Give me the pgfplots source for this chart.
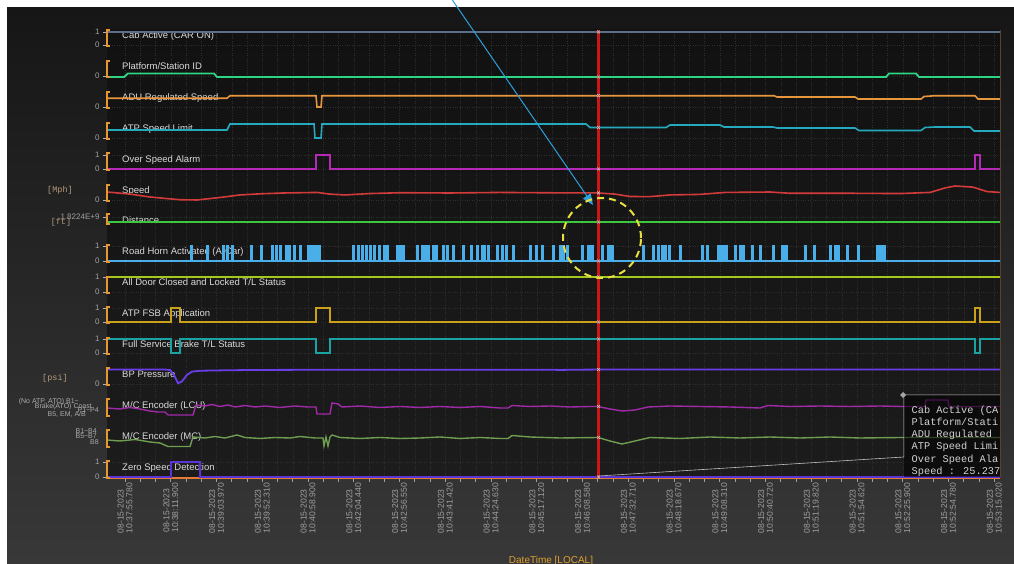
\documentclass[border=0pt]{standalone}
\usepackage{pgfplots}
\pgfplotsset{compat=1.18}
\usepackage{fontspec}
\setmainfont{Liberation Sans}
\newfontfamily\monofont{Liberation Mono}
\usetikzlibrary{arrows.meta}

\definecolor{bgtop}{HTML}{161616}
\definecolor{bgbot}{HTML}{383838}
\definecolor{plottop}{HTML}{111111}
\definecolor{plotbot}{HTML}{1C1C1C}
\definecolor{axorange}{HTML}{E37B35}
\definecolor{brk}{HTML}{E8962E}
\definecolor{unitc}{HTML}{B49B7A}
\definecolor{tickc}{HTML}{A0A0A0}
\definecolor{titlec}{HTML}{DADADA}
\definecolor{gridc}{HTML}{2E2E2E}
\definecolor{edgec}{HTML}{5A4030}
\definecolor{cabc}{HTML}{5D6E8A}
\definecolor{platc}{HTML}{2ED483}
\definecolor{aduc}{HTML}{E8963C}
\definecolor{atpc}{HTML}{25A9BF}
\definecolor{ospc}{HTML}{B52AB5}
\definecolor{spdc}{HTML}{D33A3A}
\definecolor{distc}{HTML}{3CC83C}
\definecolor{hornc}{HTML}{4AAEE8}
\definecolor{doorc}{HTML}{A6C81E}
\definecolor{fsbc}{HTML}{C9A21A}
\definecolor{fsbtc}{HTML}{1AA3A3}
\definecolor{bpc}{HTML}{6A3EE6}
\definecolor{lcuc}{HTML}{A02AA8}
\definecolor{mcc}{HTML}{6E9E50}
\definecolor{zsc}{HTML}{5A34D6}
\definecolor{cursorc}{HTML}{C81818}
\definecolor{arrowc}{HTML}{2EA0DC}
\definecolor{circc}{HTML}{E8E040}
\definecolor{titleor}{HTML}{E0A030}

\pgfplotsset{track/.style 2 args={y filter/.expression={#1+#2*y}}}

\begin{document}
\begin{tikzpicture}
\useasboundingbox (0pt,0pt) rectangle (1014pt,564pt);
\fill[white] (0pt,0pt) rectangle (1014pt,564pt);
\shade[top color=bgtop, bottom color=bgbot] (7pt,0pt) rectangle (1014pt,556pt);

\begin{axis}[
  at={(107pt,86pt)}, anchor=south west,
  scale only axis, width=893pt, height=448pt,
  xmin=107, xmax=1000, ymin=86, ymax=534,
  enlargelimits=false,
  axis background/.style={shade, top color=plottop, bottom color=plotbot},
  axis x line*=bottom, axis y line*=left,
  x axis line style={color=axorange, line width=2pt},
  y axis line style={draw=none},
  tick align=outside,
  xtick={125,170.75,216.5,262.25,308,353.75,399.5,445.25,491,536.75,582.5,628.25,674,719.75,765.5,811.25,857,902.75,948.5,994.25},
  minor x tick num=2,
  major tick length=4pt, minor tick length=4pt,
  xtick style={color=gray!75, line width=0.8pt},
  every minor tick/.append style={color=gray!75, line width=0.8pt},
  xticklabels={
   {08-15-2023\\10:37:55.780},{08-15-2023\\10:38:11.900},{08-15-2023\\10:39:03.970},{08-15-2023\\10:39:52.310},
   {08-15-2023\\10:40:58.900},{08-15-2023\\10:42:04.440},{08-15-2023\\10:42:56.550},{08-15-2023\\10:43:41.420},
   {08-15-2023\\10:44:24.630},{08-15-2023\\10:45:17.120},{08-15-2023\\10:46:08.580},{08-15-2023\\10:47:32.710},
   {08-15-2023\\10:48:18.670},{08-15-2023\\10:49:08.310},{08-15-2023\\10:50:40.720},{08-15-2023\\10:51:19.820},
   {08-15-2023\\10:51:54.620},{08-15-2023\\10:52:25.900},{08-15-2023\\10:52:54.780},{08-15-2023\\10:53:15.020}},
  xticklabel style={rotate=90, anchor=east, align=left, font=\fontsize{8.6}{8.8}\selectfont, text=gray!75, inner sep=1pt},
  ytick={87,102,180,211,225,242,256,272,287,303,318,347,364,395,409,426,457,488,519,532},
  yticklabels={0,1,0,0,1,0,1,0,1,0,1,1.8224E+9,0,0,1,0,0,0,0,1},
  ytick style={color=gray!60, line width=0.6pt},
  yticklabel style={font=\fontsize{8}{8.5}\selectfont, text=tickc},
  xmajorgrids, xminorgrids, ymajorgrids,
  major grid style={dotted, color=gridc},
  minor grid style={dotted, color=gridc},
  clip=false,
]
% track titles
\begin{scope}[every node/.style={anchor=base west, font=\fontsize{9.5}{11}\selectfont, text=titlec, inner sep=0pt}]
\node at (axis cs:122,525.7) {Cab Active (CAR ON)};
\node at (axis cs:122,494) {Platform/Station ID};
\node at (axis cs:122,463.4) {ADU Regulated Speed};
\node at (axis cs:122,432.4) {ATP Speed Limit};
\node at (axis cs:122,401.4) {Over Speed Alarm};
\node at (axis cs:122,370.7) {Speed};
\node at (axis cs:122,340) {Distance};
\node at (axis cs:122,309.7) {Road Horn Activated (A-Car)};
\node at (axis cs:122,278) {All Door Closed and Locked T/L Status};
\node at (axis cs:122,247.4) {ATP FSB Application};
\node at (axis cs:122,216.7) {Full Service Brake T/L Status};
\node at (axis cs:122,186.4) {BP Pressure};
\node at (axis cs:122,155.7) {M/C Encoder (LCU)};
\node at (axis cs:122,124) {M/C Encoder (MC)};
\node at (axis cs:122,93.4) {Zero Speed Detection};
\end{scope}

% 1 Cab Active
\addplot[cabc, line width=1.4pt, track={519}{13}] coordinates {(107,1)(1000,1)};
% 2 Platform/Station ID
\addplot[platc, line width=1.8pt, track={487}{3.5}] coordinates {(107,0)(124,0)(128,1)(214,1)(217,0)(886,0)(889,1)(916,1)(919,0)(1000,0)};
% 3 ADU Regulated Speed (mph)
\addplot[aduc, line width=1.6pt, track={457}{0.25}] coordinates {(107,35)(227,35)(230,45)(316,45)(317,0)(321,0)(322,45)(774,45)(777,40)(855,40)(858,32)(921,32)(924,42)(935,45)(975,45)(978,32)(1000,32)};
% 4 ATP Speed Limit (mph)
\addplot[atpc, line width=1.6pt, track={426}{0.25}] coordinates {(107,32)(227,32)(230,56)(314,56)(315,0)(321,0)(322,56)(586,56)(590,42)(666,42)(670,52)(720,52)(724,44)(773,44)(777,40)(855,40)(859,30)(921,30)(925,42)(935,44)(970,44)(974,28)(1000,28)};
% 5 Over Speed Alarm
\addplot[ospc, line width=1.8pt, const plot, track={395}{14}] coordinates {(107,0)(316,1)(330,0)(975,1)(980,0)(1000,0)};
% 6 Speed (mph)
\addplot[spdc, line width=1.6pt, track={364}{0.28}] coordinates {(107,28.6)(130,21)(150,10.7)(167,5)(180,1)(197,0)(220,9)(240,18)(260,22)(283,25)(317,27)(330,21)(345,18)(370,23)(400,26)(450,25)(500,27)(550,25.7)(598,25.2)(615,21)(630,12.5)(650,12)(670,18)(700,20)(725,27)(770,28.5)(790,24)(850,24)(900,23)(930,27)(945,43)(955,50)(973,46)(987,30)(1000,27)};
% 7 Distance (1e9 ft)
\addplot[distc, line width=1.6pt, track={342}{0}] coordinates {(107,1.8224)(1000,1.8224)};
% 8 Road Horn
\addplot[hornc, line width=1.5pt, const plot, track={303}{15}] coordinates {(107,0)
(191,1)(192.5,0)(207,1)(208.5,0)(222.5,1)(224,0)(227,1)(228.5,0)(232,1)(233.5,0)(251,1)(252.5,0)(261,1)(262.5,0)(272,1)(273.5,0)(276,1)(277.5,0)(279.5,1)(281,0)(285.5,1)(287,0)(289,1)(290.5,0)(294,1)(295.5,0)(299.5,1)(301,0)
(308,1)(308.75,0)(309.5,1)(310.25,0)(311,1)(311.75,0)(312.5,1)(313.25,0)(314,1)(314.75,0)(315.5,1)(316.25,0)(317,1)(317.75,0)(318.5,1)(319.25,0)(319.5,1)(320,0)
(352.5,1)(354,0)(357.5,1)(359,0)(362,1)(363.5,0)(365.5,1)(367,0)(370,1)(371.5,0)(373.5,1)(375,0)(378.5,1)(380,0)(383.5,1)(385,0)(387,1)(388.5,0)(396.5,1)(398,0)(399.5,1)(401,0)(402.5,1)(404,0)(416.5,1)(418,0)(421.5,1)(423,0)(425,1)(426.5,0)(428,1)(429.5,0)(432.5,1)(434,0)(435.5,1)(437,0)(442.5,1)(444,0)(446.5,1)(448,0)(452.5,1)(454,0)(462.5,1)(464,0)(470.5,1)(472,0)(476.5,1)(478,0)(481.5,1)(483,0)(484,1)(485.5,0)(487.5,1)(489,0)(496.5,1)(498,0)(501.5,1)(503,0)(505.5,1)(507,0)(512.5,1)(514,0)(529.5,1)(531,0)(535.5,1)(537,0)(541.5,1)(543,0)(552.5,1)(554,0)(559.5,1)(561,0)(562.5,1)(564,0)(566.5,1)(568,0)(581.5,1)(583,0)
(588,1)(588.75,0)(589.5,1)(590.25,0)(591,1)(591.75,0)(592.5,1)(593,0)(601.5,1)(603,0)
(608,1)(608.75,0)(609.5,1)(610.25,0)(611,1)(611.75,0)(612.5,1)(613,0)
(642.5,1)(644,0)(652.5,1)(654,0)(657.5,1)(659,0)(661.5,1)(663,0)(664.5,1)(666,0)(668.5,1)(670,0)(679.5,1)(681,0)(701.5,1)(703,0)(706.5,1)(708,0)
(718,1)(718.75,0)(719.5,1)(720.25,0)(721,1)(721.75,0)(722.5,1)(723.25,0)(724,1)(724.75,0)(725.5,1)(726.25,0)(726.5,1)(727,0)
(734.5,1)(736,0)(740,1)(740.75,0)(741.5,1)(742.25,0)(743,1)(744,0)(751.5,1)(753,0)(759.5,1)(761,0)(772.5,1)(774,0)
(782,1)(782.75,0)(783.5,1)(784.25,0)(785,1)(785.75,0)(786.5,1)(787,0)
(804.5,1)(806,0)(813.5,1)(815,0)(829.5,1)(831,0)(834.5,1)(836,0)(837.5,1)(839,0)(846.5,1)(848,0)(857.5,1)(859,0)
(877,1)(877.75,0)(878.5,1)(879.25,0)(880,1)(880.75,0)(881.5,1)(882.25,0)(883,1)(883.75,0)(884.5,1)(885,0)(1000,0)};
% 9 All Door Closed
\addplot[doorc, line width=1.6pt, track={272}{15}] coordinates {(107,1)(1000,1)};
% 10 ATP FSB Application
\addplot[fsbc, line width=1.6pt, const plot, track={242}{14}] coordinates {(107,0)(171,1)(180,0)(316,1)(330,0)(975,1)(980,0)(1000,0)};
% 11 Full Service Brake T/L
\addplot[fsbtc, line width=1.6pt, const plot, track={211}{14}] coordinates {(107,1)(171,0)(180,1)(316,0)(330,1)(975,0)(980,1)(1000,1)};
% 12 BP Pressure (psi)
\addplot[bpc, line width=1.8pt, track={180}{0.13}] coordinates {(107,111)(165,111)(170,108)(174,70)(178,5)(182,20)(187,70)(192,95)(200,102)(230,106)(260,108)(300,109)(400,110)(500,110)(550,110)(560,108)(575,110)(600,111)(700,111)(800,111)(900,111)(1000,111)};
% 13 M/C Encoder (LCU)
\addplot[lcuc, line width=1.4pt, track={148}{2}] coordinates {(107,4)(120,3.5)(130,4.25)(140,3.5)(150,2.5)(158,2)(165,2)(168,0.5)(193,0.5)(196,5.5)(205,5)(212,5.75)(220,4.75)(228,5.5)(235,4.5)(245,5.25)(255,4.5)(265,5)(280,4.25)(295,5)(308,4.5)(316,4.5)(317,1)(330,1)(332,6.5)(338,6)(342,4.5)(360,5)(380,4.25)(400,4.75)(420,4.25)(440,4.75)(460,4.25)(480,4.75)(500,4)(508,4)(512,5.25)(530,4.75)(550,5)(570,4.5)(590,4.75)(598,4.75)(610,3.5)(622,2.5)(635,3)(648,4.5)(670,5)(700,4.75)(730,4.5)(760,4)(768,5.25)(790,4.75)(820,5)(850,4.75)(880,5)(902,4.75)(925,4.75)(926,8)(948,8)(949,4.75)(1000,4.75)};
% 14 M/C Encoder (MC)
\addplot[mcc, line width=1.4pt, track={117}{2}] coordinates {(107,3.5)(120,3)(135,3.75)(150,2.5)(160,2)(168,0.25)(190,0.25)(193,5)(205,4.5)(215,5.25)(225,4.5)(237,6)(245,4.75)(260,4.25)(275,4.75)(290,4.5)(300,5.25)(315,4.5)(323,4.5)(324,0.5)(326,5)(328,0.5)(330,5)(332,6)(340,4.75)(360,4.25)(380,4.75)(400,4.25)(420,4.5)(440,5)(460,4.25)(480,4.75)(500,4.25)(508,4.25)(512,5.75)(530,5)(560,4.5)(598,4.75)(610,3)(622,1.5)(635,3)(650,4.75)(680,4.25)(710,5)(740,4.5)(770,5)(800,4.5)(830,5)(860,4.5)(900,4.75)(1000,4.75)};
% 15 Zero Speed Detection
\addplot[zsc, line width=1.6pt, const plot, track={87}{15}] coordinates {(107,0)(171,1)(200,0)(1000,0)};
% cursor
\addplot[cursorc, line width=2.5pt] coordinates {(598.5,86)(598.5,534)};
\addplot[only marks, mark=x, mark size=2pt, mark options={line width=0.7pt}, color=gray!45] coordinates {(598.5,532)(598.5,487)(598.5,468.3)(598.5,436.5)(598.5,395)(598.5,371.1)(598.5,342)(598.5,303)(598.5,287)(598.5,242)(598.5,225)(598.5,194.5)(598.5,157.5)(598.5,126.5)(598.5,87)};
\end{axis}

% orange track brackets
\foreach \t/\b in {30/46,61/77,92/108,123/139,153/170,185/201,214/224,245/262,277/293,307/323,338/354,368/385,399/416,430/447,461/478} {
  \draw[brk, line width=1.5pt] (110pt,{(564-\t)*1pt}) -- (107pt,{(564-\t)*1pt}) -- (107pt,{(564-\b)*1pt}) -- (110pt,{(564-\b)*1pt});
}
\draw[edgec, line width=0.8pt] (1000pt,86pt) -- (1000pt,534pt);

% unit labels
\begin{scope}[every node/.style={font=\monofont\fontsize{8.5}{9}\selectfont, text=unitc, inner sep=0pt}]
\node at (60pt,374pt) {[Mph]};
\node at (61pt,342pt) {[ft]};
\node at (55pt,186pt) {[psi]};
\end{scope}
% encoder notch labels (overlapping, as in the source display)
\begin{scope}[every node/.style={font=\fontsize{7}{7.5}\selectfont, text=gray!65, inner sep=0pt, anchor=east}]
\node at (79pt,162pt) {(No ATP, ATO) B1\textasciitilde};
\node at (92pt,157pt) {Brake(ATO) Coast};
\node at (86pt,150pt) {B5, EM, A/B};
\node at (99pt,154pt) {P1\textasciitilde P4};
\node at (97pt,133pt) {B1\textasciitilde B4};
\node at (97pt,128pt) {B5\textasciitilde B7};
\node at (99pt,122pt) {B8};
\end{scope}

% tooltip
\draw[gray!50, line width=0.6pt] (598.5pt,88pt) -- (904pt,107pt) -- (904pt,169pt) -- (1000pt,169pt);
\fill[black, fill opacity=0.55] (904pt,87pt) rectangle (999.5pt,169pt);
\begin{scope}[every node/.style={anchor=base west, font=\monofont\fontsize{10.3}{12}\selectfont, text=gray!35, inner sep=0pt}]
\node at (911.5pt,150pt) {Cab Active (CA};
\node at (911.5pt,138pt) {Platform/Stati};
\node at (911.5pt,126pt) {ADU Regulated};
\node at (911.5pt,114pt) {ATP Speed Limi};
\node at (911.5pt,101pt) {Over Speed Ala};
\node at (911.5pt,89.5pt) {Speed : 25.237};
\end{scope}
\fill[gray!70] (903pt,172pt) -- (906pt,169pt) -- (903pt,166pt) -- (900pt,169pt) -- cycle;

% annotation arrow and circle
\draw[arrowc, line width=1pt, -{Triangle[length=11pt,width=9pt]}] (451pt,566pt) -- (593pt,359pt);
\draw[circc, line width=2pt, dash pattern=on 7pt off 5pt] (602pt,326pt) ellipse [x radius=39pt, y radius=40pt];

% x axis title
\node[text=titleor, font=\fontsize{10}{12}\selectfont, inner sep=0pt] at (551pt,3pt) {DateTime [LOCAL]};
\end{tikzpicture}
\end{document}
